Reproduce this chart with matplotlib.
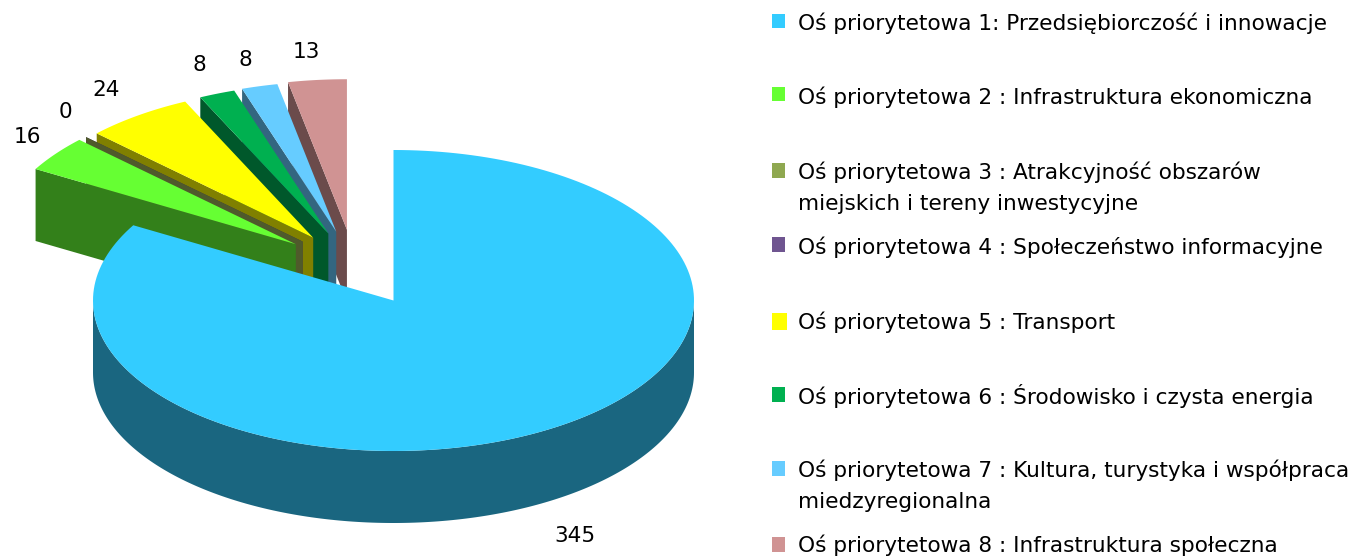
import numpy as np
import matplotlib
matplotlib.use('Agg')
import matplotlib.pyplot as plt
from matplotlib.patches import Polygon, Rectangle

# chart data
categories = [
    'Oś priorytetowa 1: Przedsiębiorczość i innowacje',
    'Oś priorytetowa 2 : Infrastruktura ekonomiczna',
    'Oś priorytetowa 3 : Atrakcyjność obszarów\nmiejskich i tereny inwestycyjne',
    'Oś priorytetowa 4 : Społeczeństwo informacyjne',
    'Oś priorytetowa 5 : Transport',
    'Oś priorytetowa 6 : Środowisko i czysta energia',
    'Oś priorytetowa 7 : Kultura, turystyka i współpraca\nmiedzyregionalna',
    'Oś priorytetowa 8 : Infrastruktura społeczna',
]
values = [345, 16, 0, 0, 24, 8, 8, 13]
top_colors = ['#33CCFF', '#66FF33', '#8FA850', '#6F5590',
              '#FFFF00', '#00B050', '#66CCFF', '#D09393']
wall_colors = ['#1A6680', '#33801A', '#4F5A2B', '#3A2D4C',
               '#808000', '#00582B', '#336680', '#6B4B4B']

# pie geometry, in pixels of the output
CX, CY = 393.5, 300.5
RX, RY = 300.5, 150.5
DEPTH = 72
EXPLODE_X, EXPLODE_Y = 149, 74.5

# data label centres
label_pos = [(575, 536), (27, 137), (65, 112), None,
             (106, 90), (199, 65), (245, 60), (306, 52)]

# legend swatches (top, height, width) and text centre of the first line
swatches = [(14, 14, 13), (87, 14, 13), (163, 15, 13), (237, 15, 13),
            (313, 17, 15), (387, 15, 13), (461, 15, 13), (537, 15, 13)]
text_y = [23, 97, 172, 247, 322, 396, 470, 545]

FONT = 'DejaVu Sans'
SIZE = 15.6

fig = plt.figure(figsize=(13.59, 5.58), dpi=100)
ax = fig.add_axes([0, 0, 1, 1])
ax.set_xlim(0, 1359)
ax.set_ylim(558, 0)
ax.axis('off')


def arc(start, stop, cx=CX, cy=CY):
    th = np.radians(np.linspace(start, stop, 200))
    return np.column_stack([cx + RX * np.sin(th), cy - RY * np.cos(th)])


total = sum(values)
angles = np.cumsum([0] + values) / total * 360

# small slices go back to front, each one hiding part of the wall behind it
for i in range(len(values) - 1, 0, -1):
    start, stop = angles[i], angles[i + 1]
    # the apexes sit closer together than the slice bisectors
    bis = 360 - (start + stop) / 2
    direction = np.radians(15.5 + 0.48 * bis)
    ax_x = CX - EXPLODE_X * np.sin(direction)
    ax_y = CY - EXPLODE_Y * np.cos(direction)
    ox, oy = arc(start, start, ax_x, ax_y)[0]
    wall = [(ox, oy), (ax_x, ax_y), (ax_x, ax_y + DEPTH), (ox, oy + DEPTH)]
    ax.add_patch(Polygon(wall, closed=True, fc=wall_colors[i], ec='none', zorder=2))
    top = np.vstack([[(ax_x, ax_y)], arc(start, stop, ax_x, ax_y)])
    ax.add_patch(Polygon(top, closed=True, fc=top_colors[i], ec='none', zorder=2))

# the big slice stays in the centre
front = arc(90, 270)
side = np.vstack([front, (front + [0, DEPTH])[::-1]])
ax.add_patch(Polygon(side, closed=True, fc=wall_colors[0], ec='none', zorder=3))
top = np.vstack([[(CX, CY)], arc(angles[0], angles[1])])
ax.add_patch(Polygon(top, closed=True, fc=top_colors[0], ec='none', zorder=3))

# the two zero slices land on the same spot, only one label is readable
for val, pos in zip(values, label_pos):
    if pos is None:
        continue
    ax.text(pos[0], pos[1], str(val), ha='center', va='center',
            family=FONT, fontsize=SIZE, color='black', zorder=5)

for name, col, sw, y in zip(categories, top_colors, swatches, text_y):
    ax.add_patch(Rectangle((772, sw[0]), sw[2], sw[1], fc=col, ec='none', zorder=4))
    for k, line in enumerate(name.split('\n')):
        ax.text(798, y + 31.5 * k, line, ha='left', va='center',
                family=FONT, fontsize=SIZE, color='black', zorder=5)

plt.savefig('out.png', format='png', dpi=100)
